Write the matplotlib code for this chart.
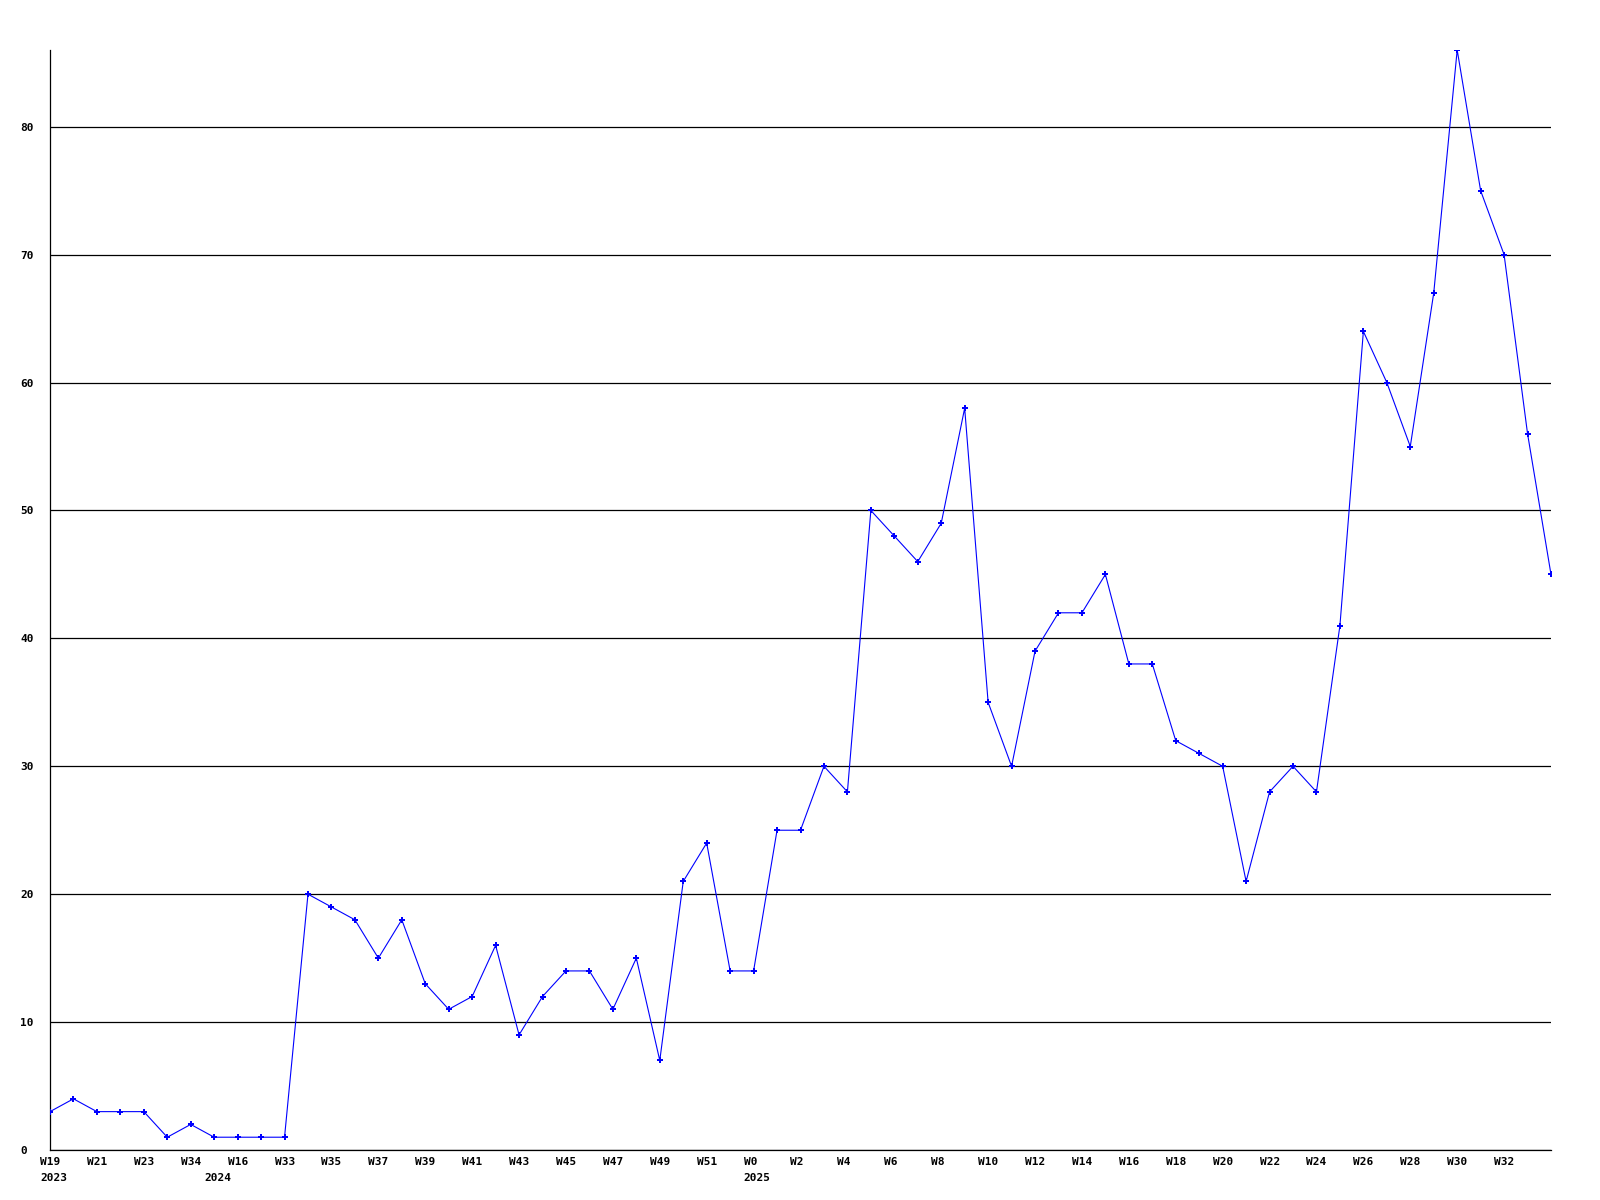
import matplotlib
matplotlib.use("Agg")
import matplotlib.pyplot as plt
from matplotlib.transforms import ScaledTranslation

# weekly counts, one per week
counts = [3, 4, 3, 3, 3, 1, 2, 1, 1, 1, 1, 20, 19, 18, 15, 18, 13, 11, 12, 16,
          9, 12, 14, 14, 11, 15, 7, 21, 24, 14, 14, 25, 25, 30, 28, 50, 48, 46,
          49, 58, 35, 30, 39, 42, 42, 45, 38, 38, 32, 31, 30, 21, 28, 30, 28, 41,
          64, 60, 55, 67, 86, 75, 70, 56, 45]

# labels shown on every other week
week_labels = ["W19", "W21", "W23", "W34", "W16", "W33", "W35", "W37", "W39",
               "W41", "W43", "W45", "W47", "W49", "W51", "W0", "W2", "W4", "W6",
               "W8", "W10", "W12", "W14", "W16", "W18", "W20", "W22", "W24",
               "W26", "W28", "W30", "W32"]
year_pos = [0, 7, 30]
year_labels = ["2023", "2024", "2025"]
y_ticks = [0, 10, 20, 30, 40, 50, 60, 70, 80]

FONT = dict(family="DejaVu Sans Mono", weight="bold", size=8)

fig = plt.figure(figsize=(16, 12), dpi=100)
ax = fig.add_axes([50 / 1600, 50 / 1200, 1501 / 1600, 1100 / 1200])

x = list(range(len(counts)))
ax.plot(x, counts, color="#0000ff", lw=0.8, marker="P", markersize=5,
        markeredgewidth=0, zorder=3)

ax.set_xlim(0, len(counts) - 1)
ax.set_ylim(0, max(counts))

# y axis: left-aligned labels, black grid lines
ax.set_yticks(y_ticks)
ax.set_yticklabels([str(v) for v in y_ticks], fontdict=FONT)
ax.tick_params(axis="y", length=0, pad=21.6)
for lab in ax.get_yticklabels():
    lab.set_horizontalalignment("left")
ax.yaxis.grid(True, color="black", lw=0.9)
ax.set_axisbelow(True)

# x axis: week labels (major), year under the first week of each year (minor)
ax.xaxis.remove_overlapping_locs = False
ax.set_xticks(range(0, 2 * len(week_labels), 2))
ax.set_xticklabels(week_labels, fontdict=FONT, ha="left")
ax.set_xticks(year_pos, minor=True)
ax.set_xticklabels(year_labels, fontdict=FONT, ha="left", minor=True)
ax.tick_params(axis="x", which="major", length=0, pad=5)
ax.tick_params(axis="x", which="minor", length=0, pad=16.5)
shift = ScaledTranslation(-10 / 100, 0, fig.dpi_scale_trans)
for lab in ax.get_xticklabels() + ax.get_xticklabels(minor=True):
    lab.set_transform(lab.get_transform() + shift)

for side in ("top", "right"):
    ax.spines[side].set_visible(False)
for side in ("left", "bottom"):
    ax.spines[side].set_color("black")
    ax.spines[side].set_linewidth(0.9)

fig.savefig("out.png", dpi=100)
